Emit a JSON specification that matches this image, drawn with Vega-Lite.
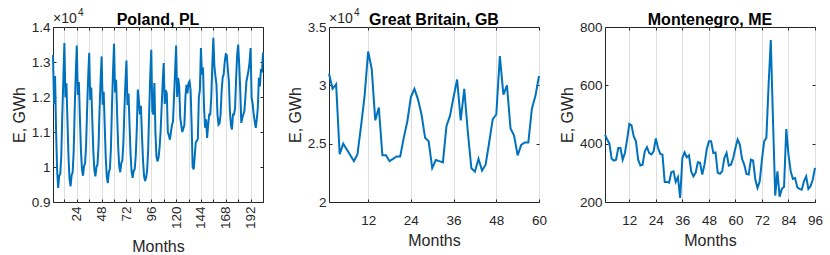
{
  "$schema": "https://vega.github.io/schema/vega-lite/v6.json",
  "padding": {"left": 10, "top": 7, "right": 5, "bottom": 5},
  "config": {
    "font": "Liberation Sans",
    "view": {"stroke": "#262626", "strokeWidth": 1},
    "axis": {"domain": false, "tickColor": "#262626", "tickSize": -3, "labelColor": "#262626", "labelFontSize": 13.5, "titleFontSize": 16, "titleFontWeight": "normal", "titleColor": "#262626", "gridColor": "#dfdfdf", "gridWidth": 1, "labelPadding": 6, "titlePadding": 4},
    "title": {"fontSize": 16, "fontWeight": "bold", "color": "#000000", "offset": -20, "anchor": "middle"}
  },
  "datasets": {
    "PL": [
      {"month":1,"E":13200},{"month":2,"E":11800},{"month":3,"E":12600},{"month":4,"E":11000},{"month":5,"E":9900},{"month":6,"E":9400},{"month":7,"E":9750},{"month":8,"E":9800},{"month":9,"E":10300},{"month":10,"E":11500},{"month":11,"E":12500},{"month":12,"E":13540},
      {"month":13,"E":11990},{"month":14,"E":12390},{"month":15,"E":11290},{"month":16,"E":10270},{"month":17,"E":9650},{"month":18,"E":9450},{"month":19,"E":9770},{"month":20,"E":9850},{"month":21,"E":10450},{"month":22,"E":11660},{"month":23,"E":12670},{"month":24,"E":13470},
      {"month":25,"E":12060},{"month":26,"E":12430},{"month":27,"E":11420},{"month":28,"E":10490},{"month":29,"E":9940},{"month":30,"E":9750},{"month":31,"E":10030},{"month":32,"E":10100},{"month":33,"E":10630},{"month":34,"E":11680},{"month":35,"E":12560},{"month":36,"E":13260},
      {"month":37,"E":11920},{"month":38,"E":12270},{"month":39,"E":11320},{"month":40,"E":10440},{"month":41,"E":9910},{"month":42,"E":9730},{"month":43,"E":10000},{"month":44,"E":10070},{"month":45,"E":10590},{"month":46,"E":11620},{"month":47,"E":12470},{"month":48,"E":13160},
      {"month":49,"E":11780},{"month":50,"E":12150},{"month":51,"E":11170},{"month":52,"E":10260},{"month":53,"E":9720},{"month":54,"E":9540},{"month":55,"E":9860},{"month":56,"E":9940},{"month":57,"E":10540},{"month":58,"E":11730},{"month":59,"E":12720},{"month":60,"E":13520},
      {"month":61,"E":12130},{"month":62,"E":12490},{"month":63,"E":11500},{"month":64,"E":10580},{"month":65,"E":10030},{"month":66,"E":9850},{"month":67,"E":10110},{"month":68,"E":10170},{"month":69,"E":10650},{"month":70,"E":11600},{"month":71,"E":12400},{"month":72,"E":13040},
      {"month":73,"E":11770},{"month":74,"E":12100},{"month":75,"E":11200},{"month":76,"E":10360},{"month":77,"E":9860},{"month":78,"E":9690},{"month":79,"E":9890},{"month":80,"E":9940},{"month":81,"E":10320},{"month":82,"E":11080},{"month":83,"E":12210},{"month":84,"E":11900},
      {"month":85,"E":11500},{"month":86,"E":11750},{"month":87,"E":10900},{"month":88,"E":10200},{"month":89,"E":9750},{"month":90,"E":9600},{"month":91,"E":9700},{"month":92,"E":9900},{"month":93,"E":10500},{"month":94,"E":11600},{"month":95,"E":12600},{"month":96,"E":13350},
      {"month":97,"E":11600},{"month":98,"E":11500},{"month":99,"E":12400},{"month":100,"E":11000},{"month":101,"E":10300},{"month":102,"E":10160},{"month":103,"E":10260},{"month":104,"E":10550},{"month":105,"E":11000},{"month":106,"E":11700},{"month":107,"E":12400},{"month":108,"E":12970},
      {"month":109,"E":11800},{"month":110,"E":12200},{"month":111,"E":12100},{"month":112,"E":11000},{"month":113,"E":10900},{"month":114,"E":10780},{"month":115,"E":11000},{"month":116,"E":11200},{"month":117,"E":11300},{"month":118,"E":12000},{"month":119,"E":12700},{"month":120,"E":13470},
      {"month":121,"E":12000},{"month":122,"E":12550},{"month":123,"E":12300},{"month":124,"E":11400},{"month":125,"E":11200},{"month":126,"E":11000},{"month":127,"E":11100},{"month":128,"E":11200},{"month":129,"E":12000},{"month":130,"E":12350},{"month":131,"E":12100},{"month":132,"E":12400},
      {"month":133,"E":12450},{"month":134,"E":12200},{"month":135,"E":11200},{"month":136,"E":10000},{"month":137,"E":9930},{"month":138,"E":10300},{"month":139,"E":10700},{"month":140,"E":10750},{"month":141,"E":10800},{"month":142,"E":12000},{"month":143,"E":12200},{"month":144,"E":13400},
      {"month":145,"E":12650},{"month":146,"E":12840},{"month":147,"E":11700},{"month":148,"E":11120},{"month":149,"E":11360},{"month":150,"E":10830},{"month":151,"E":11200},{"month":152,"E":11500},{"month":153,"E":11500},{"month":154,"E":12000},{"month":155,"E":12900},{"month":156,"E":13690},
      {"month":157,"E":12880},{"month":158,"E":12600},{"month":159,"E":12360},{"month":160,"E":11500},{"month":161,"E":11210},{"month":162,"E":11250},{"month":163,"E":11500},{"month":164,"E":12170},{"month":165,"E":12550},{"month":166,"E":12650},{"month":167,"E":13000},{"month":168,"E":13220},
      {"month":169,"E":13200},{"month":170,"E":12800},{"month":171,"E":12450},{"month":172,"E":11600},{"month":173,"E":11200},{"month":174,"E":11070},{"month":175,"E":11500},{"month":176,"E":11500},{"month":177,"E":11690},{"month":178,"E":12500},{"month":179,"E":13200},{"month":180,"E":13500},
      {"month":181,"E":12930},{"month":182,"E":12200},{"month":183,"E":11260},{"month":184,"E":11400},{"month":185,"E":11500},{"month":186,"E":11600},{"month":187,"E":12000},{"month":188,"E":12450},{"month":189,"E":12600},{"month":190,"E":12750},{"month":191,"E":13000},{"month":192,"E":13400},
      {"month":193,"E":11980},{"month":194,"E":11800},{"month":195,"E":11500},{"month":196,"E":11300},{"month":197,"E":11120},{"month":198,"E":11360},{"month":199,"E":11700},{"month":200,"E":12550},{"month":201,"E":12300},{"month":202,"E":12800},{"month":203,"E":12700},{"month":204,"E":13270}
    ],
    "GB": [
      {"month":1,"E":31000},{"month":2,"E":29700},{"month":3,"E":30100},{"month":4,"E":24100},{"month":5,"E":25000},{"month":6,"E":24500},{"month":7,"E":24000},{"month":8,"E":23500},{"month":9,"E":24100},{"month":10,"E":26500},
      {"month":11,"E":29100},{"month":12,"E":32900},{"month":13,"E":31400},{"month":14,"E":27000},{"month":15,"E":28100},{"month":16,"E":24000},{"month":17,"E":24000},{"month":18,"E":23500},{"month":19,"E":23700},{"month":20,"E":23900},
      {"month":21,"E":23900},{"month":22,"E":25500},{"month":23,"E":26900},{"month":24,"E":29000},{"month":25,"E":29700},{"month":26,"E":28800},{"month":27,"E":27500},{"month":28,"E":25500},{"month":29,"E":25200},{"month":30,"E":22900},
      {"month":31,"E":23600},{"month":32,"E":23500},{"month":33,"E":23400},{"month":34,"E":26500},{"month":35,"E":27400},{"month":36,"E":29000},{"month":37,"E":30500},{"month":38,"E":27000},{"month":39,"E":29700},{"month":40,"E":26000},
      {"month":41,"E":22900},{"month":42,"E":22600},{"month":43,"E":23700},{"month":44,"E":22700},{"month":45,"E":23200},{"month":46,"E":25100},{"month":47,"E":27100},{"month":48,"E":27500},{"month":49,"E":32500},{"month":50,"E":29200},
      {"month":51,"E":30000},{"month":52,"E":26300},{"month":53,"E":25700},{"month":54,"E":24000},{"month":55,"E":24900},{"month":56,"E":25100},{"month":57,"E":25100},{"month":58,"E":28000},{"month":59,"E":29100},{"month":60,"E":30800}
    ],
    "ME": [
      {"month":1,"E":431},{"month":2,"E":414},{"month":3,"E":400},{"month":4,"E":348},{"month":5,"E":342},{"month":6,"E":345},{"month":7,"E":385},{"month":8,"E":385},{"month":9,"E":345},{"month":10,"E":368},
      {"month":11,"E":414},{"month":12,"E":468},{"month":13,"E":463},{"month":14,"E":425},{"month":15,"E":408},{"month":16,"E":345},{"month":17,"E":325},{"month":18,"E":328},{"month":19,"E":374},{"month":20,"E":388},
      {"month":21,"E":368},{"month":22,"E":363},{"month":23,"E":374},{"month":24,"E":418},{"month":25,"E":385},{"month":26,"E":365},{"month":27,"E":363},{"month":28,"E":269},{"month":29,"E":269},{"month":30,"E":266},
      {"month":31,"E":302},{"month":32,"E":305},{"month":33,"E":269},{"month":34,"E":285},{"month":35,"E":214},{"month":36,"E":351},{"month":37,"E":370},{"month":38,"E":353},{"month":39,"E":360},{"month":40,"E":305},
      {"month":41,"E":288},{"month":42,"E":300},{"month":43,"E":336},{"month":44,"E":334},{"month":45,"E":294},{"month":46,"E":328},{"month":47,"E":380},{"month":48,"E":408},{"month":49,"E":408},{"month":50,"E":368},
      {"month":51,"E":370},{"month":52,"E":300},{"month":53,"E":297},{"month":54,"E":305},{"month":55,"E":351},{"month":56,"E":368},{"month":57,"E":325},{"month":58,"E":328},{"month":59,"E":351},{"month":60,"E":385},
      {"month":61,"E":414},{"month":62,"E":397},{"month":63,"E":348},{"month":64,"E":328},{"month":65,"E":296},{"month":66,"E":294},{"month":67,"E":345},{"month":68,"E":342},{"month":69,"E":277},{"month":70,"E":248},
      {"month":71,"E":271},{"month":72,"E":345},{"month":73,"E":408},{"month":74,"E":420},{"month":75,"E":600},{"month":76,"E":755},{"month":77,"E":480},{"month":78,"E":222},{"month":79,"E":305},{"month":80,"E":218},
      {"month":81,"E":245},{"month":82,"E":252},{"month":83,"E":450},{"month":84,"E":363},{"month":85,"E":305},{"month":86,"E":279},{"month":87,"E":282},{"month":88,"E":250},{"month":89,"E":245},{"month":90,"E":242},
      {"month":91,"E":271},{"month":92,"E":288},{"month":93,"E":245},{"month":94,"E":254},{"month":95,"E":277},{"month":96,"E":317}
    ]
  },
  "bounds": "flush",
  "spacing": 66,
  "hconcat": [
    {
      "width": 210, "height": 175,
      "title": {"text": "Poland, PL"},
      "resolve": {"axis": {"x": "independent", "y": "independent"}},
      "layer": [
        {
          "data": {"name": "PL"},
          "mark": {"type": "line", "color": "#0072BD", "strokeWidth": 2},
          "encoding": {
            "x": {"field": "month", "type": "quantitative", "scale": {"domain": [1, 204], "nice": false, "zero": false},
                  "axis": {"orient": "bottom", "values": [12,24,36,48,60,72,84,96,108,120,132,144,156,168,180,192], "labelExpr": "datum.value % 24 === 0 ? datum.label : ''", "labelAngle": 270, "labelPadding": 7, "grid": true, "title": "Months", "titlePadding": 10}},
            "y": {"field": "E", "type": "quantitative", "scale": {"domain": [9000, 14000], "nice": false, "zero": false},
                  "axis": {"orient": "left", "values": [9000,10000,11000,12000,13000,14000], "labelExpr": "datum.value / 10000", "grid": false, "title": "E, GWh"}}
          }
        },
        {
          "data": {"name": "PL"},
          "mark": {"type": "line", "opacity": 0},
          "encoding": {
            "x": {"field": "month", "type": "quantitative", "scale": {"domain": [1, 204], "nice": false, "zero": false},
                  "axis": {"orient": "top", "values": [12,24,36,48,60,72,84,96,108,120,132,144,156,168,180,192], "labels": false, "grid": false, "title": null}},
            "y": {"field": "E", "type": "quantitative", "scale": {"domain": [9000, 14000], "nice": false, "zero": false},
                  "axis": {"orient": "right", "values": [9000,10000,11000,12000,13000,14000], "labels": false, "grid": false, "title": null}}
          }
        },
        {
          "data": {"values": [{"x": 1, "y": 14000}]},
          "mark": {"type": "text", "text": "×10", "align": "left", "baseline": "alphabetic", "dy": -4, "fontSize": 14, "color": "#262626"},
          "encoding": {"x": {"field": "x", "type": "quantitative", "axis": null}, "y": {"field": "y", "type": "quantitative", "axis": null}}
        },
        {
          "data": {"values": [{"x": 1, "y": 14000}]},
          "mark": {"type": "text", "text": "4", "align": "left", "baseline": "alphabetic", "dx": 25, "dy": -11, "fontSize": 10, "color": "#262626"},
          "encoding": {"x": {"field": "x", "type": "quantitative", "axis": null}, "y": {"field": "y", "type": "quantitative", "axis": null}}
        }
      ]
    },
    {
      "width": 210, "height": 175,
      "title": {"text": "Great Britain, GB"},
      "resolve": {"axis": {"x": "independent", "y": "independent"}},
      "layer": [
        {
          "data": {"name": "GB"},
          "mark": {"type": "line", "color": "#0072BD", "strokeWidth": 2},
          "encoding": {
            "x": {"field": "month", "type": "quantitative", "scale": {"domain": [1, 60], "nice": false, "zero": false},
                  "axis": {"orient": "bottom", "values": [12,24,36,48,60], "grid": true, "title": "Months", "labelFlush": false, "labelPadding": 14, "titlePadding": 6}},
            "y": {"field": "E", "type": "quantitative", "scale": {"domain": [20000, 35000], "nice": false, "zero": false},
                  "axis": {"orient": "left", "values": [20000,25000,30000,35000], "labelExpr": "datum.value / 10000", "grid": false, "title": "E, GWh"}}
          }
        },
        {
          "data": {"name": "GB"},
          "mark": {"type": "line", "opacity": 0},
          "encoding": {
            "x": {"field": "month", "type": "quantitative", "scale": {"domain": [1, 60], "nice": false, "zero": false},
                  "axis": {"orient": "top", "values": [12,24,36,48,60], "labels": false, "grid": false, "title": null}},
            "y": {"field": "E", "type": "quantitative", "scale": {"domain": [20000, 35000], "nice": false, "zero": false},
                  "axis": {"orient": "right", "values": [20000,25000,30000,35000], "labels": false, "grid": false, "title": null}}
          }
        },
        {
          "data": {"values": [{"x": 1, "y": 35000}]},
          "mark": {"type": "text", "text": "×10", "align": "left", "baseline": "alphabetic", "dy": -4, "fontSize": 14, "color": "#262626"},
          "encoding": {"x": {"field": "x", "type": "quantitative", "axis": null}, "y": {"field": "y", "type": "quantitative", "axis": null}}
        },
        {
          "data": {"values": [{"x": 1, "y": 35000}]},
          "mark": {"type": "text", "text": "4", "align": "left", "baseline": "alphabetic", "dx": 25, "dy": -11, "fontSize": 10, "color": "#262626"},
          "encoding": {"x": {"field": "x", "type": "quantitative", "axis": null}, "y": {"field": "y", "type": "quantitative", "axis": null}}
        }
      ]
    },
    {
      "width": 210, "height": 175,
      "title": {"text": "Montenegro, ME", "offset": -8},
      "resolve": {"axis": {"x": "independent", "y": "independent"}},
      "layer": [
        {
          "data": {"name": "ME"},
          "mark": {"type": "line", "color": "#0072BD", "strokeWidth": 2},
          "encoding": {
            "x": {"field": "month", "type": "quantitative", "scale": {"domain": [1, 96], "nice": false, "zero": false},
                  "axis": {"orient": "bottom", "values": [12,24,36,48,60,72,84,96], "grid": true, "title": "Months", "labelFlush": false, "labelPadding": 14, "titlePadding": 6}},
            "y": {"field": "E", "type": "quantitative", "scale": {"domain": [200, 800], "nice": false, "zero": false},
                  "axis": {"orient": "left", "values": [200,400,600,800], "grid": false, "title": "E, GWh"}}
          }
        },
        {
          "data": {"name": "ME"},
          "mark": {"type": "line", "opacity": 0},
          "encoding": {
            "x": {"field": "month", "type": "quantitative", "scale": {"domain": [1, 96], "nice": false, "zero": false},
                  "axis": {"orient": "top", "values": [12,24,36,48,60,72,84,96], "labels": false, "grid": false, "title": null}},
            "y": {"field": "E", "type": "quantitative", "scale": {"domain": [200, 800], "nice": false, "zero": false},
                  "axis": {"orient": "right", "values": [200,400,600,800], "labels": false, "grid": false, "title": null}}
          }
        }
      ]
    }
  ]
}
